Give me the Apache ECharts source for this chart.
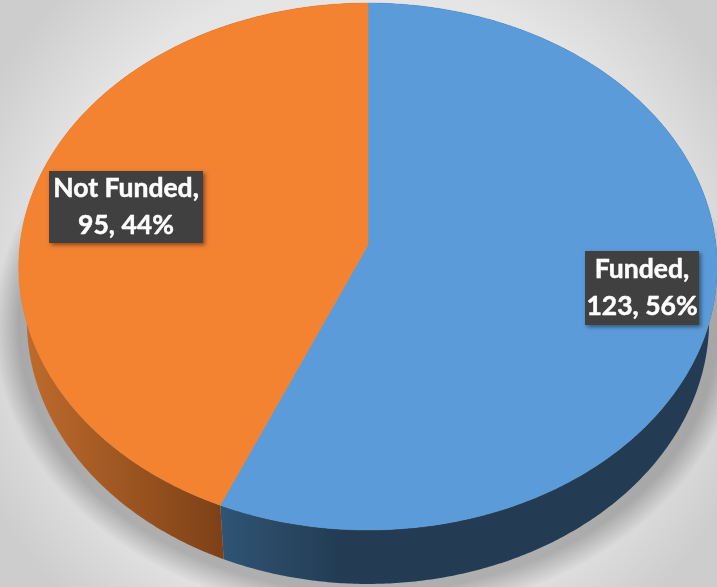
<!DOCTYPE html>
<html>
<head>
<meta charset="utf-8">
<style>html,body{margin:0;padding:0;background:#e4e4e4}#c{width:717px;height:587px}</style>
<script src="https://cdn.jsdelivr.net/npm/echarts@6/dist/echarts.min.js"></script>
</head>
<body>
<div id="c"></div>
<script>
const categories = ['Funded', 'Not Funded'];
const values = [123, 95];
const topColors = ['#5b9bd9', '#f38231'];
const sideStops = [['#2f5475', '#233c54', 222, 340], ['#c06c2d', '#7d4117', 20, 222]];
const labelCenters = [[642, 288], [126, 207]];
const labelSizes = [[114, 74], [154, 72]];

const total = values.reduce((a, b) => a + b, 0);
const CX = 368, CY = 245;
const RX = 348, RY = 261.7, PERSP = -0.0816;
const SIDE_DY = 54, SIDE_SX = 0.977;

function project(deg) {
  const t = deg * Math.PI / 180, u = Math.sin(t), v = -Math.cos(t);
  const d = 1 + PERSP * v;
  return [RX * u / d, RY * v / d];
}
const topPt = deg => { const p = project(deg); return [CX + p[0], CY + p[1]]; };
const botPt = deg => { const p = project(deg); return [CX + p[0] * SIDE_SX, CY + p[1] + SIDE_DY]; };
function arc(fn, a, b) {
  const pts = [], n = Math.max(2, Math.ceil((b - a) * 2));
  for (let i = 0; i <= n; i++) pts.push(fn(a + (b - a) * i / n));
  return pts;
}

function renderItem(params, api) {
  const i = params.dataIndex;
  let before = 0;
  for (let k = 0; k < i; k++) before += values[k];
  const a0 = before / total * 360, a1 = (before + api.value(1)) / total * 360;
  const children = [];
  if (i === 0) {
    // soft ground shadow: stacked translucent rings
    for (let g = 0; g < 18; g++) {
      const sh = [];
      const grow = 10 + g * 1.4;
      for (let d = 0; d < 360; d += 2) {
        const t = d * Math.PI / 180;
        sh.push([368 + (340 + grow) * Math.sin(t), 326 - (257 + grow) * Math.cos(t)]);
      }
      children.push({
        type: 'polygon', z2: 0, shape: { points: sh },
        style: { fill: 'rgba(0,0,0,0.0108)' }
      });
    }
  }
  const s = sideStops[i];
  children.push({
    type: 'polygon', z2: 1,
    shape: { points: arc(topPt, a0, a1).concat(arc(botPt, a0, a1).reverse()) },
    style: {
      fill: new echarts.graphic.LinearGradient(s[2], 0, s[3], 0,
        [{ offset: 0, color: s[0] }, { offset: 1, color: s[1] }], true)
    }
  });
  children.push({
    type: 'polygon', z2: 2,
    shape: { points: [[CX, CY]].concat(arc(topPt, a0, a1)) },
    style: { fill: topColors[i], stroke: topColors[i], lineWidth: 0.5 }
  });
  const c = labelCenters[i], z = labelSizes[i];
  children.push({
    type: 'rect', z2: 3,
    shape: { x: c[0] - z[0] / 2, y: c[1] - z[1] / 2, width: z[0], height: z[1] },
    style: { fill: '#404040', shadowBlur: 4, shadowOffsetX: 2, shadowOffsetY: 2, shadowColor: 'rgba(0,0,0,0.45)' }
  });
  const pct = Math.round(api.value(1) / total * 100);
  children.push({
    type: 'text', z2: 4, x: c[0], y: c[1],
    style: {
      text: categories[i] + ',\n' + api.value(1) + ', ' + pct + '%',
      fill: '#ffffff', stroke: '#ffffff', lineWidth: 0.5, font: 'bold 26.5px Lato', lineHeight: 37,
      align: 'center', verticalAlign: 'middle'
    }
  });
  return { type: 'group', children };
}

const chart = echarts.init(document.getElementById('c'), null, { renderer: 'canvas' });
chart.setOption({
  animation: false,
  backgroundColor: new echarts.graphic.RadialGradient(0.5, 0.5, 0.72,
    [{ offset: 0, color: '#f0f0f0' }, { offset: 0.75, color: '#e4e4e4' }, { offset: 1, color: '#cdcdcd' }]),
  series: [{
    type: 'custom',
    coordinateSystem: 'none',
    renderItem,
    silent: true,
    data: categories.map((n, i) => ({ name: n, value: [i, values[i]] }))
  }]
});
</script>
</body>
</html>
